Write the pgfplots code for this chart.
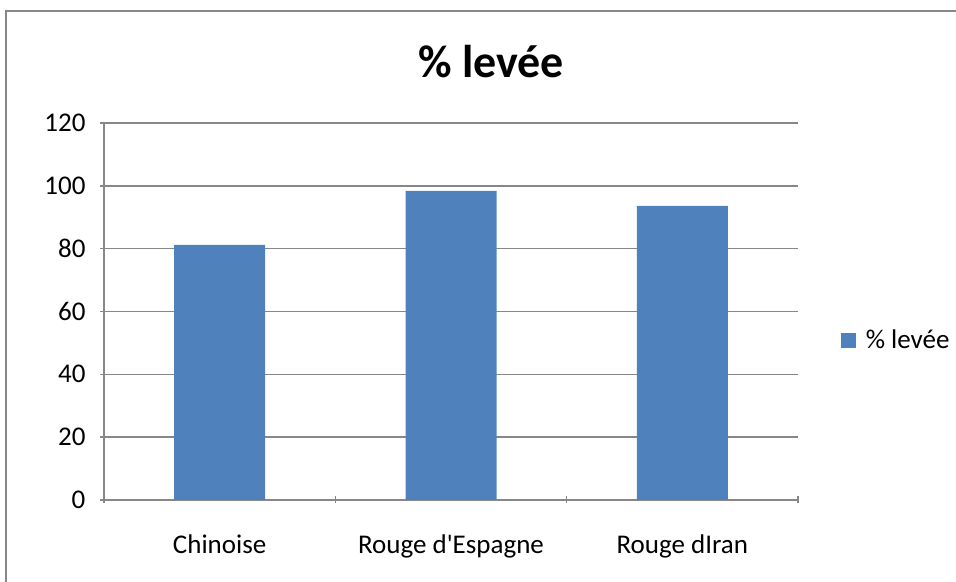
\documentclass[border=0pt]{standalone}
\usepackage{fontspec}
\setmainfont{Carlito}
\usepackage{pgfplots}
\pgfplotsset{compat=1.18}
\definecolor{barblue}{HTML}{4F81BD}
\definecolor{gridgray}{HTML}{878787}
\begin{document}
\begin{tikzpicture}
\useasboundingbox (-52pt,-41pt) rectangle (426pt,250pt);
\draw[gridgray, line width=1pt] (-49pt,-60pt) -- (-49pt,244.5pt) -- (440pt,244.5pt);
\begin{axis}[
    scale only axis,
    width=347pt, height=188.5pt,
    at={(0,0)}, anchor=south west,
    ybar, bar width=45.5pt,
    xmin=-0.5, xmax=2.5,
    ymin=0, ymax=120, ytick={0,20,...,120},
    xtick={0,1,2},
    xticklabels={Chinoise, Rouge d\textquotesingle Espagne, Rouge dIran},
    major x tick style={draw=none},
    minor xtick={-0.5,0.5,1.5,2.5},
    minor x tick style={gridgray, line width=0.75pt},
    minor tick length=3.5pt,
    major tick length=3.5pt,
    tick align=outside,
    axis x line=bottom, axis y line=left,
    axis line style={gridgray, line width=0.75pt, -},
    y tick style={gridgray, line width=0.75pt},
    ymajorgrids, grid style={gridgray, line width=0.75pt},
    ticklabel style={font=\fontsize{13.5}{16}\selectfont, text=black},
    /pgf/number format/assume math mode=true,
    xticklabel style={anchor=base, yshift=-25pt},
    yticklabel style={xshift=-4pt},
    legend style={draw=none, fill=none, at={(1.061,0.424)}, anchor=west,
        font=\fontsize{13.5}{16}\selectfont, inner sep=0pt},
    legend image code/.code={\fill[barblue] (0pt,-3.75pt) rectangle (7.5pt,3.75pt);},
    clip=false,
]
\addplot[fill=barblue, draw=none] coordinates {(0,81.2) (1,98.4) (2,93.6)};
\legend{\hspace{3pt}\% levée}
\end{axis}
\node[font=\bfseries\fontsize{23}{26}\selectfont, anchor=base] at (193.5pt,211pt) {\% levée};
\end{tikzpicture}
\end{document}
